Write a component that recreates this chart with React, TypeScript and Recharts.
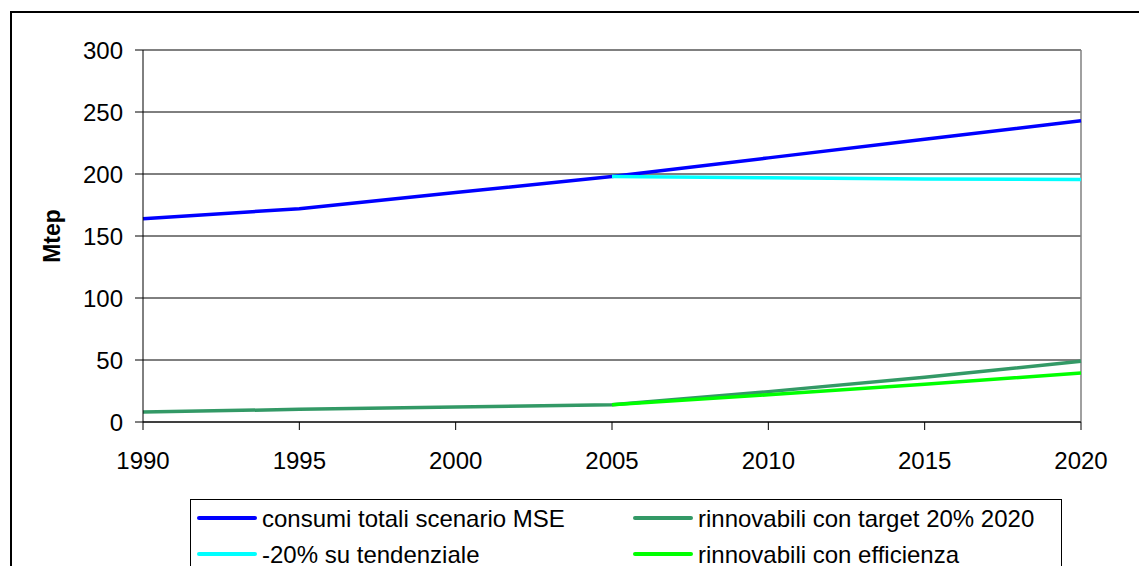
import { CartesianGrid, Line, LineChart, ReferenceLine, XAxis, YAxis } from "recharts"

// years on the x axis
const years = [1990, 1995, 2000, 2005, 2010, 2015, 2020]

// series values (Mtep)
const consumiTotali = [164, 172, 185, 198, 213, 228, 243]
const rinnovabiliTarget = [8, 10.2, 12, 14, 24.5, 36, 49]
const tendenziale20 = [null, null, null, 198, 197, 196, 195.5]
const rinnovabiliEfficienza = [null, null, null, 14, 22, 30.5, 39.5]

const yTicks = [0, 50, 100, 150, 200, 250, 300]

const series = [
  { key: "consumi", name: "consumi totali scenario MSE", color: "#0000FF", values: consumiTotali },
  { key: "target", name: "rinnovabili con target 20% 2020", color: "#339966", values: rinnovabiliTarget },
  { key: "tendenziale", name: "-20% su tendenziale", color: "#00FFFF", values: tendenziale20 },
  { key: "efficienza", name: "rinnovabili con efficienza", color: "#00FF00", values: rinnovabiliEfficienza },
]

const data = years.map((year, i) => {
  const row: Record<string, number | null> = { year }
  series.forEach((s) => {
    row[s.key] = s.values[i]
  })
  return row
})

const FONT = "'Liberation Sans', Arial, sans-serif"

// legend is laid out row by row: left column then right column
const legendPos = [
  { left: 7, top: 19 },
  { left: 443, top: 19 },
  { left: 7, top: 54.5 },
  { left: 443, top: 54.5 },
]

function ChartLegend() {
  return (
    <div
      style={{
        position: "absolute",
        left: 190,
        top: 499,
        width: 872,
        height: 200,
        border: "1px solid #000",
        boxSizing: "border-box",
        fontFamily: FONT,
        fontSize: 24,
        color: "#000",
      }}
    >
      {series.map((s, i) => (
        <div key={s.key} style={{ position: "absolute", left: legendPos[i].left - 1, top: legendPos[i].top - 1 }}>
          <div style={{ position: "absolute", left: 0, top: -2, width: 60, height: 4, background: s.color, borderRadius: 2 }} />
          <div style={{ position: "absolute", left: 65, top: -13, whiteSpace: "nowrap", lineHeight: "28px" }}>{s.name}</div>
        </div>
      ))}
    </div>
  )
}

export default function App() {
  return (
    <div style={{ margin: -8, position: "relative", width: 1147, height: 574, overflow: "hidden", background: "#fff" }}>
      {/* outer chart frame */}
      <div
        style={{
          position: "absolute",
          left: 10,
          top: 11,
          width: 2000,
          height: 1000,
          borderTop: "2px solid #000",
          borderLeft: "2px solid #000",
        }}
      />
      <div style={{ position: "absolute", left: 0, top: 0 }}>
        <LineChart width={1147} height={574} data={data} margin={{ top: 50, right: 66, bottom: 92, left: 0 }}>
          <CartesianGrid vertical={false} stroke="#000" strokeWidth={1} />
          <XAxis
            dataKey="year"
            type="number"
            domain={[1990, 2020]}
            ticks={years}
            height={60}
            tickSize={8}
            tickMargin={22}
            axisLine={{ stroke: "#000" }}
            tickLine={{ stroke: "#000" }}
            tick={{ fill: "#000", fontSize: 24, fontFamily: FONT }}
          />
          <YAxis
            domain={[0, 300]}
            ticks={yTicks}
            width={143}
            tickSize={8}
            tickMargin={12}
            axisLine={{ stroke: "#000" }}
            tickLine={{ stroke: "#000" }}
            tick={{ fill: "#000", fontSize: 24, fontFamily: FONT }}
            label={{
              content: () => (
                <text
                  x={52}
                  y={236}
                  transform="rotate(-90 52 236)"
                  textAnchor="middle"
                  dominantBaseline="central"
                  fontFamily={FONT}
                  fontSize={23}
                  fontWeight="bold"
                  fill="#000"
                >
                  Mtep
                </text>
              ),
            }}
          />
          <ReferenceLine y={300} stroke="#808080" strokeWidth={1.5} />
          <ReferenceLine x={2020} stroke="#808080" strokeWidth={1.5} />
          {series.map((s) => (
            <Line
              key={s.key}
              dataKey={s.key}
              name={s.name}
              stroke={s.color}
              strokeWidth={3.5}
              dot={false}
              activeDot={false}
              type="linear"
              isAnimationActive={false}
            />
          ))}
        </LineChart>
      </div>
      <ChartLegend />
    </div>
  )
}
